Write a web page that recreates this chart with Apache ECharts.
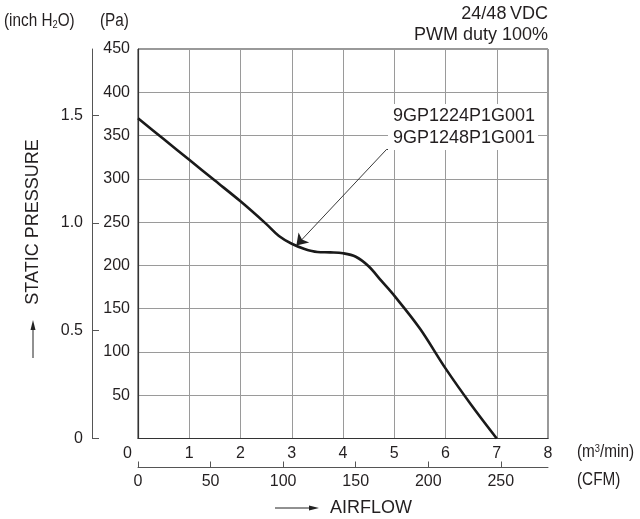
<!DOCTYPE html>
<html>
<head>
<meta charset="utf-8">
<script src="https://cdn.jsdelivr.net/npm/echarts@6/dist/echarts.min.js"></script>
<style>html,body{margin:0;padding:0;background:#fff}#c{width:640px;height:519px}</style>
</head>
<body>
<div id="c"></div>
<script>
// ---- data ----
const airflowM3 = [0, 0.5, 1, 1.5, 2, 2.5, 2.75, 3, 3.25, 3.5, 3.75, 4, 4.25, 4.5, 4.75, 5, 5.5, 6, 6.5, 7];
const pressurePa = [370, 346, 322, 298, 274, 248, 234, 225, 219, 215.5, 215, 214, 210, 199, 182, 165, 127, 81, 39, 0];
const paTicks = [0, 50, 100, 150, 200, 250, 300, 350, 400, 450];
const inchTicks = [0, 0.5, 1.0, 1.5];
const m3Ticks = [0, 1, 2, 3, 4, 5, 6, 7, 8];
const cfmTicks = [0, 50, 100, 150, 200, 250];
const modelNames = ['9GP1224P1G001', '9GP1248P1G001'];
const titleLines = ['24/48\u2009VDC', 'PWM duty 100%'];
const arrowFrom = [4.85, 334];
const arrowTo = [3.09, 223];
const underlineEnd = [7.75, 334];

const PA_PER_INCH = 249.089;
const CFM_PER_M3 = 35.3147;

const NUMF = "'Liberation Sans',Arial,sans-serif";
const SANS = "'Liberation Sans',Arial,sans-serif";
const TXT = '#231f20';
const NUMSIZE = 16;

const chart = echarts.init(document.getElementById('c'), null, {renderer: 'canvas'});

const lineData = airflowM3.map((x, i) => [x, pressurePa[i]]);

const option = {
  backgroundColor: '#fff',
  animation: false,
  grid: {left: 138, top: 49, width: 410, height: 389.5, show: true, borderColor: '#333', borderWidth: 1, backgroundColor: 'transparent'},
  xAxis: [
    {
      type: 'value', min: 0, max: 8, interval: 1, position: 'bottom',
      axisLine: {show: true, onZero: false, lineStyle: {color: '#333', width: 1.2}},
      axisTick: {show: false},
      splitLine: {show: true, lineStyle: {color: '#9a9a9a', width: 1}},
      axisLabel: {
        color: TXT, fontFamily: NUMF, fontSize: NUMSIZE, margin: 7,
        alignMinLabel: 'right',
        formatter: v => m3Ticks.includes(v) ? (v === 0 ? '{z|0}' : String(v)) : '',
        rich: {z: {fontFamily: NUMF, fontSize: NUMSIZE, color: TXT, padding: [0, 6, 0, 0]}}
      }
    },
    {
      type: 'value', min: 0, max: 8 * CFM_PER_M3, position: 'bottom', offset: 29,
      axisLine: {show: true, onZero: false, lineStyle: {color: '#555', width: 1}},
      axisTick: {show: true, inside: true, length: 6, customValues: cfmTicks, lineStyle: {color: '#555'}},
      splitLine: {show: false},
      axisLabel: {color: TXT, fontFamily: NUMF, fontSize: NUMSIZE, margin: 6, customValues: cfmTicks, formatter: v => String(v)}
    }
  ],
  yAxis: [
    {
      type: 'value', min: 0, max: 450, interval: 50, position: 'left',
      axisLine: {show: true, onZero: false, lineStyle: {color: '#333', width: 1.2}},
      axisTick: {show: false},
      splitLine: {show: true, lineStyle: {color: '#9a9a9a', width: 1}},
      axisLabel: {color: TXT, fontFamily: NUMF, fontSize: NUMSIZE, margin: 8, formatter: v => (v === 0 ? '' : String(v))}
    },
    {
      type: 'value', min: 0, max: 450 / PA_PER_INCH, position: 'left', offset: 46,
      axisLine: {show: true, onZero: false, lineStyle: {color: '#555', width: 1}},
      axisTick: {show: true, inside: true, length: 7, customValues: inchTicks, lineStyle: {color: '#555'}},
      splitLine: {show: false},
      axisLabel: {color: TXT, fontFamily: NUMF, fontSize: NUMSIZE, margin: 9, customValues: inchTicks,
        formatter: v => (v === 0 ? '0' : v.toFixed(1))}
    }
  ],
  series: [
    {
      type: 'line', xAxisIndex: 0, yAxisIndex: 0, data: lineData, smooth: 0.35,
      showSymbol: false, symbol: 'none',
      lineStyle: {color: '#1a1a1a', width: 2.6},
      z: 5,
      markLine: {
        silent: true, animation: false, z: 8,
        symbol: ['none', 'arrow'], symbolSize: [0, 11],
        label: {show: false},
        lineStyle: {color: '#222', width: 0.9, type: 'solid'},
        data: [
          [{coord: arrowFrom, symbol: 'none'}, {coord: arrowTo, symbol: 'arrow', symbolSize: 11}],
          [{coord: arrowFrom, symbol: 'none'}, {coord: underlineEnd, symbol: 'none'}]
        ]
      }
    }
  ],
  graphic: [
    {type: 'text', x: 4, y: 21, z: 10, scaleX: 0.85, style: {text: '(inch H{s|2}O)', font: '18px ' + SANS, fill: TXT, verticalAlign: 'middle',
      rich: {s: {fontSize: 11, fontFamily: SANS, fill: TXT, verticalAlign: 'bottom', padding: [6, 0, 0, 0]}}}},
    {type: 'text', x: 100, y: 21, z: 10, scaleX: 0.85, style: {text: '(Pa)', font: '18px ' + SANS, fill: TXT, verticalAlign: 'middle'}},
    {type: 'text', x: 548, y: 4, z: 10, style: {text: titleLines.join('\n'), font: '18px ' + SANS, fill: TXT, align: 'right', verticalAlign: 'top', lineHeight: 21}},
    {type: 'text', x: 388, y: 104, z: 10, style: {text: modelNames.join('\n'), font: '18px ' + SANS, fill: TXT, align: 'left', verticalAlign: 'top', lineHeight: 22, backgroundColor: '#fff', padding: [1, 3, 1, 5]}},
    {type: 'text', x: 577, y: 452, z: 10, scaleX: 0.85, style: {text: '(m{s|3}/min)', font: '18px ' + SANS, fill: TXT, verticalAlign: 'middle',
      rich: {s: {fontSize: 11, fontFamily: SANS, fill: TXT, verticalAlign: 'top', padding: [0, 0, 6, 0]}}}},
    {type: 'text', x: 577, y: 480, z: 10, scaleX: 0.85, style: {text: '(CFM)', font: '18px ' + SANS, fill: TXT, verticalAlign: 'middle'}},
    // AIRFLOW label with arrow
    {type: 'line', z: 10, shape: {x1: 275, y1: 508, x2: 312, y2: 508}, style: {stroke: '#222', lineWidth: 1}},
    {type: 'polygon', z: 10, shape: {points: [[319, 508], [309, 505.5], [309, 510.5]]}, style: {fill: '#222'}},
    {type: 'text', x: 330, y: 508, z: 10, style: {text: 'AIRFLOW', font: '18px ' + SANS, fill: TXT, verticalAlign: 'middle'}},
    // STATIC PRESSURE label with arrow
    {type: 'line', z: 10, shape: {x1: 33, y1: 358, x2: 33, y2: 327}, style: {stroke: '#222', lineWidth: 1}},
    {type: 'polygon', z: 10, shape: {points: [[33, 320], [30.5, 330], [35.5, 330]]}, style: {fill: '#222'}},
    {type: 'text', x: 33, y: 222, rotation: Math.PI / 2, z: 10, style: {text: 'STATIC PRESSURE', font: '18px ' + SANS, fill: TXT, align: 'center', verticalAlign: 'middle'}}
  ]
};
chart.setOption(option);
</script>
</body>
</html>
